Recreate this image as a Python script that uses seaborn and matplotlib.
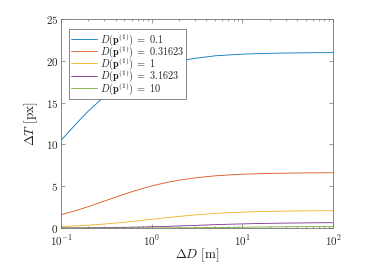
import numpy as np
import pandas as pd
import matplotlib
matplotlib.use("Agg")
import matplotlib.pyplot as plt
import seaborn as sns
from matplotlib.ticker import FuncFormatter, LogLocator, NullFormatter

# values
delta_d = [0.1, 0.15, 0.2, 0.3, 0.5, 0.7, 1, 1.5, 2, 3, 5, 7, 10, 15, 20, 30, 50, 70, 100]
dt_01 = [10.5, 12.6, 14.0, 15.75, 17.5, 18.4, 19.1, 19.7, 20.0, 20.3, 20.6, 20.7, 20.8,
         20.86, 20.9, 20.93, 20.96, 20.97, 20.98]
dt_031623 = [1.60, 2.14, 2.57, 3.23, 4.07, 4.57, 5.05, 5.48, 5.73, 6.01, 6.25, 6.35, 6.44,
             6.50, 6.54, 6.57, 6.60, 6.61, 6.62]
dt_1 = [0.19, 0.27, 0.35, 0.48, 0.70, 0.86, 1.05, 1.26, 1.40, 1.58, 1.75, 1.84, 1.91,
        1.97, 2.00, 2.03, 2.06, 2.07, 2.08]
dt_31623 = [0.02, 0.03, 0.04, 0.06, 0.09, 0.12, 0.16, 0.21, 0.26, 0.32, 0.41, 0.46, 0.50,
            0.55, 0.57, 0.60, 0.62, 0.64, 0.64]
dt_10 = [0.002, 0.003, 0.004, 0.006, 0.010, 0.014, 0.019, 0.027, 0.035, 0.048, 0.070,
         0.086, 0.105, 0.126, 0.140, 0.158, 0.175, 0.184, 0.191]

labels = ["0.1", "0.31623", "1", "3.1623", "10"]
series = [dt_01, dt_031623, dt_1, dt_31623, dt_10]
colors = ["#0072BD", "#D95319", "#EDB120", "#7E2F8E", "#77AC30"]

sns.set_style("ticks")
plt.rcParams["mathtext.fontset"] = "cm"
plt.rcParams["font.family"] = ["DejaVu Serif"]

fig = plt.figure(figsize=(3.82, 2.64), dpi=100)
ax = fig.add_axes([0.160, 0.136, 0.712, 0.792])

for lab, vals, col in zip(labels, series, colors):
    df = pd.DataFrame({"dD": delta_d, "dT": vals})
    sns.lineplot(data=df, x="dD", y="dT", ax=ax, color=col, linewidth=0.6,
                 label=r"$D(\mathbf{p}^{(1)})\;=\;" + lab + "$")

ax.set_xscale("log")
ax.set_xlim(0.1, 100)
ax.set_ylim(0, 25)
ax.set_yticks([0, 5, 10, 15, 20, 25])
ax.yaxis.set_major_formatter(FuncFormatter(lambda v, p: f"${v:g}$"))
ax.xaxis.set_major_locator(LogLocator(base=10, numticks=10))
ax.xaxis.set_minor_locator(LogLocator(base=10, subs=np.arange(2, 10), numticks=20))
ax.xaxis.set_minor_formatter(NullFormatter())
ax.xaxis.set_major_formatter(FuncFormatter(lambda v, p: f"$10^{{{int(round(np.log10(v)))}}}$"))

for s in ax.spines.values():
    s.set_visible(True)
    s.set_color("0.45")
    s.set_linewidth(0.6)
ax.tick_params(which="both", direction="in", top=True, right=True,
               color="0.45", width=0.5, labelsize=8, pad=2)
ax.tick_params(axis="x", which="major", pad=4)
ax.tick_params(which="major", length=3)
ax.tick_params(which="minor", length=1.6)

ax.set_xlabel(r"$\Delta D\ [\mathrm{m}]$", fontsize=9.5, labelpad=-1)
ax.set_ylabel(r"$\Delta T\ [\mathrm{px}]$", fontsize=9.5, labelpad=4)

leg = ax.legend(loc="upper left", bbox_to_anchor=(0.03, 0.952), borderaxespad=0,
                fontsize=7.4, frameon=True, fancybox=False,
                framealpha=1, edgecolor="0.45", handlelength=2.5,
                labelspacing=-0.42, borderpad=0.2, handletextpad=0.25)
leg.get_frame().set_linewidth(0.6)

fig.savefig("out.png", dpi=100)
